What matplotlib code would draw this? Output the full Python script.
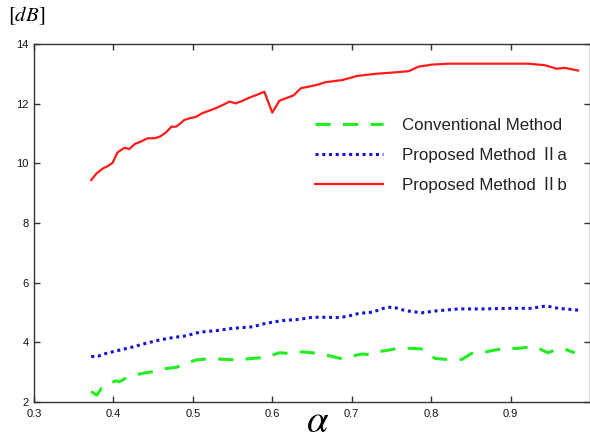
import matplotlib
matplotlib.use('Agg')
import matplotlib.pyplot as plt

plt.rcParams['mathtext.fontset'] = 'stix'

# values
x_conv = [0.372, 0.379, 0.385, 0.391, 0.402, 0.408, 0.416, 0.427, 0.437, 0.450,
          0.462, 0.479, 0.492, 0.504, 0.517, 0.533, 0.554, 0.571, 0.592, 0.609,
          0.621, 0.638, 0.650, 0.663, 0.676, 0.688, 0.701, 0.713, 0.722, 0.734,
          0.747, 0.759, 0.772, 0.788, 0.805, 0.818, 0.839, 0.851, 0.860, 0.876,
          0.889, 0.910, 0.926, 0.935, 0.947, 0.960, 0.968, 0.981]
y_conv = [2.35, 2.23, 2.46, 2.51, 2.71, 2.68, 2.81, 2.91, 2.96, 3.02,
          3.11, 3.16, 3.30, 3.41, 3.44, 3.44, 3.41, 3.45, 3.50, 3.65,
          3.63, 3.68, 3.65, 3.61, 3.52, 3.45, 3.54, 3.61, 3.59, 3.69,
          3.74, 3.81, 3.80, 3.78, 3.46, 3.43, 3.43, 3.63, 3.63, 3.72,
          3.78, 3.80, 3.85, 3.80, 3.65, 3.78, 3.77, 3.65]

x_2a = [0.372, 0.381, 0.391, 0.408, 0.425, 0.441, 0.458, 0.475, 0.492, 0.508,
        0.529, 0.550, 0.575, 0.592, 0.613, 0.634, 0.650, 0.667, 0.684, 0.696,
        0.709, 0.726, 0.740, 0.751, 0.768, 0.788, 0.805, 0.834, 0.864, 0.901,
        0.926, 0.945, 0.960, 0.985]
y_2a = [3.52, 3.54, 3.63, 3.74, 3.85, 3.97, 4.08, 4.16, 4.22, 4.34,
        4.39, 4.47, 4.52, 4.64, 4.73, 4.77, 4.84, 4.84, 4.83, 4.88,
        4.97, 5.01, 5.14, 5.19, 5.06, 4.99, 5.05, 5.12, 5.12, 5.14,
        5.14, 5.22, 5.14, 5.08]

x_2b = [0.372, 0.379, 0.387, 0.393, 0.399, 0.405, 0.408, 0.414, 0.420, 0.427,
        0.433, 0.443, 0.452, 0.458, 0.466, 0.473, 0.479, 0.483, 0.489, 0.496,
        0.504, 0.512, 0.521, 0.529, 0.538, 0.546, 0.554, 0.563, 0.571, 0.579,
        0.590, 0.600, 0.609, 0.617, 0.627, 0.636, 0.646, 0.659, 0.667, 0.688,
        0.707, 0.730, 0.755, 0.772, 0.784, 0.801, 0.822, 0.864, 0.922, 0.943,
        0.958, 0.968, 0.985]
y_2b = [9.44, 9.67, 9.83, 9.91, 10.02, 10.36, 10.42, 10.52, 10.48, 10.65,
        10.71, 10.84, 10.84, 10.89, 11.03, 11.23, 11.23, 11.31, 11.45, 11.51,
        11.56, 11.68, 11.77, 11.85, 11.96, 12.07, 12.01, 12.10, 12.20, 12.28,
        12.40, 11.70, 12.10, 12.18, 12.28, 12.52, 12.57, 12.65, 12.72, 12.79,
        12.93, 13.00, 13.05, 13.09, 13.24, 13.31, 13.34, 13.34, 13.34, 13.29,
        13.17, 13.20, 13.11]

labels = ['Conventional Method', 'Proposed Method \u2161a', 'Proposed Method \u2161b']
xticks = [0.3, 0.4, 0.5, 0.6, 0.7, 0.8, 0.9]
yticks = [2, 4, 6, 8, 10, 12, 14]

fig = plt.figure(figsize=(5.9, 4.36), dpi=100)
ax = fig.add_axes([34/590, 1-402/436, 1-34/590, (402-44)/436])

ax.plot(x_conv, y_conv, color='#22ee22', lw=2.2, dashes=(5, 4), label=labels[0])
ax.plot(x_2a, y_2a, color='#1515d5', lw=2.2, dashes=(1, 1.2), label=labels[1])
ax.plot(x_2b, y_2b, color='#ff1a1a', lw=1.6, label=labels[2])

ax.set_xlim(0.3, 1.0)
ax.set_ylim(2, 14)
ax.set_xticks(xticks)
ax.set_xticklabels([str(t) for t in xticks])
ax.set_yticks(yticks)
ax.tick_params(direction='in', length=4, width=1, top=True, right=True,
               labelsize=8, colors='#333333')
ax.tick_params(axis='x', pad=5)
ax.tick_params(axis='y', pad=4)
for lab in ax.get_xticklabels() + ax.get_yticklabels():
    lab.set_family('Liberation Sans')
    lab.set_color('#111111')
for s in ax.spines.values():
    s.set_linewidth(1.0)
    s.set_color('#333333')

leg = ax.legend(loc='upper left', bbox_to_anchor=(300/590, 1-103/436),
                bbox_transform=fig.transFigure, frameon=False,
                handlelength=4.0, handletextpad=1.1, labelspacing=0.82,
                prop={'family': ['Liberation Sans', 'Noto Sans CJK JP'], 'size': 12.2})
for t in leg.get_texts():
    t.set_color('#222222')

fig.text(8/590, 1-16/436, r'$[dB]$', fontsize=15, va='center', ha='left')
fig.text(318/590, 1-421/436, r'$\alpha$', fontsize=28, va='center', ha='center')

fig.savefig('out.png', dpi=100)
